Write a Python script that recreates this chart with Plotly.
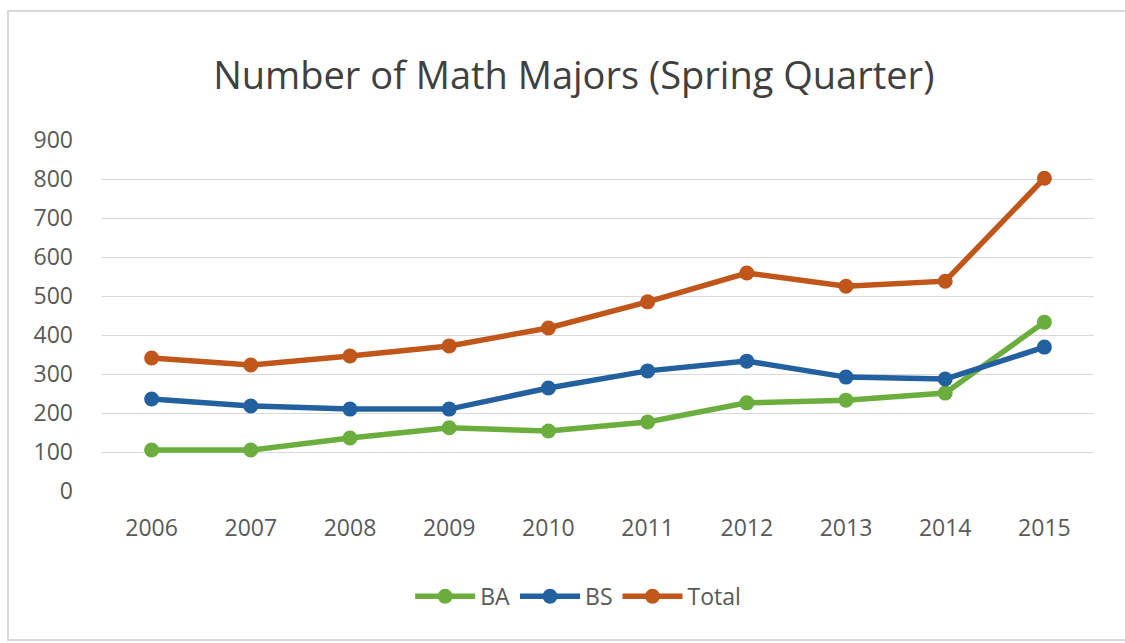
import plotly.graph_objects as go

years = ["2006", "2007", "2008", "2009", "2010", "2011", "2012", "2013", "2014", "2015"]
ba = [105, 105, 136, 162, 154, 177, 226, 233, 251, 433]
bs = [236, 218, 210, 210, 264, 308, 333, 292, 287, 369]
total = [341, 323, 346, 372, 418, 485, 559, 525, 538, 802]
y_ticks = [0, 100, 200, 300, 400, 500, 600, 700, 800, 900]

series = [
    ("BA", ba, "#6BAE3E"),
    ("BS", bs, "#23609F"),
    ("Total", total, "#C0561A"),
]

fig = go.Figure()
for name, vals, color in series:
    fig.add_trace(go.Scatter(
        x=years, y=vals, name=name, mode="lines+markers",
        line=dict(color=color, width=5.5),
        marker=dict(color=color, size=15),
    ))

fig.update_layout(
    width=1125, height=643,
    margin=dict(l=102, r=31, t=140, b=152),
    paper_bgcolor="white", plot_bgcolor="white",
    font=dict(family="Open Sans, Lato, sans-serif", color="#595959"),
    title=dict(
        text="Number of Math Majors (Spring Quarter)",
        x=0.51, xanchor="center", y=0.883, yanchor="middle",
        font=dict(size=38, color="#404040"),
    ),
    xaxis=dict(
        type="category", range=[-0.5, len(years) - 0.5],
        showgrid=False, zeroline=False, showline=False,
        tickfont=dict(size=23, color="#595959"), ticks="",
        ticklabelstandoff=21, automargin=False,
    ),
    yaxis=dict(
        range=[0, 900], tickvals=y_ticks, showgrid=True, gridcolor="#D9D9D9",
        gridwidth=1, zeroline=False, showline=False,
        tickfont=dict(size=23, color="#595959"), ticks="",
        ticklabelstandoff=28, automargin=False,
    ),
    legend=dict(
        orientation="h", x=0.48, xanchor="center", y=-0.3, yanchor="middle",
        font=dict(size=23, color="#595959"), itemwidth=60,
    ),
    showlegend=True,
)

# light outer frame around the chart area
fig.add_shape(
    type="rect", xref="paper", yref="paper",
    x0=-94 / 992, x1=1130 / 992, y0=-149 / 351, y1=1 + 129 / 351,
    line=dict(color="#D9D9D9", width=2), fillcolor="rgba(0,0,0,0)", layer="below",
)

fig.write_html("out.html")
